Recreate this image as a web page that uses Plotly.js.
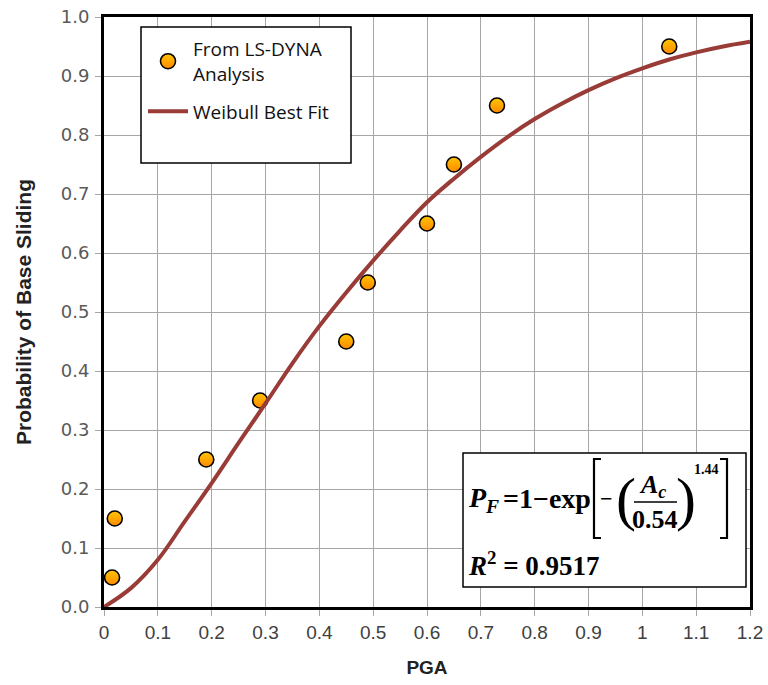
<!DOCTYPE html>
<html>
<head>
<meta charset="utf-8">
<script src="https://cdn.plot.ly/plotly-3.0.1.min.js"></script>
<style>html,body{margin:0;padding:0;background:#fff;}#chart{width:768px;height:685px;}</style>
</head>
<body>
<div id="chart"></div>
<script>
// ---- data ----
var pointsPGA  = [0.015, 0.02, 0.19, 0.29, 0.45, 0.49, 0.60, 0.65, 0.73, 1.05];
var pointsProb = [0.05, 0.15, 0.25, 0.35, 0.45, 0.55, 0.65, 0.75, 0.85, 0.95];

var fitPGA  = [0, 0.05, 0.10, 0.15, 0.20, 0.25, 0.30, 0.35, 0.40, 0.45, 0.50, 0.55, 0.60, 0.65, 0.70, 0.75, 0.80, 0.85, 0.90, 0.95, 1.00, 1.05, 1.10, 1.15, 1.20];
var fitProb = [0, 0.032, 0.08, 0.145, 0.21, 0.278, 0.345, 0.413, 0.476, 0.533, 0.587, 0.638, 0.686, 0.726, 0.763, 0.797, 0.827, 0.853, 0.876, 0.896, 0.913, 0.928, 0.940, 0.950, 0.958];

var xTickVals = [0, 0.1, 0.2, 0.3, 0.4, 0.5, 0.6, 0.7, 0.8, 0.9, 1.0, 1.1, 1.2];
var xTickText = ["0", "0.1", "0.2", "0.3", "0.4", "0.5", "0.6", "0.7", "0.8", "0.9", "1", "1.1", "1.2"];
var yTickVals = [0, 0.1, 0.2, 0.3, 0.4, 0.5, 0.6, 0.7, 0.8, 0.9, 1.0];
var yTickText = ["0.0", "0.1", "0.2", "0.3", "0.4", "0.5", "0.6", "0.7", "0.8", "0.9", "1.0"];

var seriesNames = ["From LS-DYNA<br>Analysis", "Weibull Best Fit"];

// ---- layout helpers (pixel -> paper) ----
var L = 104, R = 750, T = 17, B = 607;
function px(x) { return (x - L) / (R - L); }
function py(y) { return (B - y) / (B - T); }

var serif = "Liberation Serif, Times New Roman, serif";

var traces = [
  {
    x: pointsPGA, y: pointsProb, type: "scatter", mode: "markers",
    name: seriesNames[0], legendgroup: "a",
    marker: { size: 15, color: "#ffc400", gradient: { type: "vertical", color: "#ff8a00" },
              line: { color: "#000", width: 1.6 } }
  },
  {
    x: fitPGA, y: fitProb, type: "scatter", mode: "lines",
    name: seriesNames[1], legendgroup: "b",
    line: { color: "#993b37", width: 4, shape: "spline" }
  }
];

var ann = [];
function txt(x, y, t, size, extra, weight) {
  var a = { xref: "paper", yref: "paper", x: px(x), y: py(y), text: t, showarrow: false,
            xanchor: "center", yanchor: "middle",
            font: { family: serif, size: size, color: "#000", weight: weight || "bold" } };
  if (extra) for (var k in extra) a[k] = extra[k];
  ann.push(a);
}
txt(466, 499, "<i>P</i><sub><i>F</i></sub>", 28, { xanchor: "left" });
txt(547, 498, "=1\u2212exp", 28);
txt(606, 498, "\u2212", 22);
txt(626, 499, "(", 60, null, "normal");
txt(686, 499, ")", 60, null, "normal");
txt(652, 486, "<i>A</i><sub><i>c</i></sub>", 26);
txt(655, 519, "0.54", 26);
txt(706, 469, "1.44", 14);
txt(466, 564, "<i>R</i><sup>2</sup> = 0.9517", 27, { xanchor: "left" });

var shapes = [
  // legend box
  { type: "rect", xref: "paper", yref: "paper", x0: px(141), x1: px(351), y0: py(27), y1: py(163),
    fillcolor: "#fff", line: { color: "#000", width: 1.5 }, layer: "above" },
  // equation box
  { type: "rect", xref: "paper", yref: "paper", x0: px(463), x1: px(746), y0: py(453), y1: py(587),
    fillcolor: "#fff", line: { color: "#000", width: 1.5 }, layer: "above" },
  // fraction bar
  { type: "line", xref: "paper", yref: "paper", x0: px(634), x1: px(677), y0: py(502), y1: py(502),
    line: { color: "#000", width: 1.5 }, layer: "above" },
  // left bracket
  { type: "path", xref: "paper", yref: "paper",
    path: "M" + px(601) + "," + py(459) + " L" + px(594) + "," + py(459) + " L" + px(594) + "," + py(538) + " L" + px(601) + "," + py(538),
    line: { color: "#000", width: 2.2 }, layer: "above" },
  // right bracket
  { type: "path", xref: "paper", yref: "paper",
    path: "M" + px(720) + "," + py(459) + " L" + px(727) + "," + py(459) + " L" + px(727) + "," + py(538) + " L" + px(720) + "," + py(538),
    line: { color: "#000", width: 2.2 }, layer: "above" }
];

var layout = {
  width: 768, height: 685,
  margin: { l: L, r: 768 - R, t: T, b: 685 - B },
  paper_bgcolor: "#fff", plot_bgcolor: "#fff",
  showlegend: true,
  legend: {
    x: px(143), y: py(30), xanchor: "left", yanchor: "top",
    bgcolor: "rgba(0,0,0,0)", borderwidth: 0,
    font: { family: "Open Sans, sans-serif", size: 19, color: "#111" },
    itemwidth: 40
  },
  xaxis: {
    range: [0, 1.2], tickvals: xTickVals, ticktext: xTickText,
    showgrid: true, gridcolor: "#a6a6a6", gridwidth: 1,
    showline: true, linecolor: "#000", linewidth: 3, mirror: true,
    ticks: "outside", ticklen: 6, tickcolor: "#a6a6a6",
    tickfont: { family: "Liberation Sans, Arial, sans-serif", size: 19, color: "#404040" },
    zeroline: false,
    title: { text: "PGA", font: { family: "Liberation Sans, Arial, sans-serif", size: 19, color: "#222", weight: "bold" }, standoff: 19 },
    automargin: false
  },
  yaxis: {
    range: [0, 1.0], tickvals: yTickVals, ticktext: yTickText,
    showgrid: true, gridcolor: "#a6a6a6", gridwidth: 1,
    showline: true, linecolor: "#000", linewidth: 3, mirror: true,
    ticks: "outside", ticklen: 6, tickcolor: "#a6a6a6",
    tickfont: { family: "DejaVu Sans, Verdana, sans-serif", size: 18, color: "#595959" },
    ticklabelstandoff: 2,
    zeroline: false,
    title: { text: "Probability of Base Sliding", font: { family: "Liberation Sans, Arial, sans-serif", size: 21, color: "#222", weight: "bold" }, standoff: 24 },
    automargin: false
  },
  shapes: shapes,
  annotations: ann
};

Plotly.newPlot("chart", traces, layout, { staticPlot: true, displayModeBar: false });
</script>
</body>
</html>
